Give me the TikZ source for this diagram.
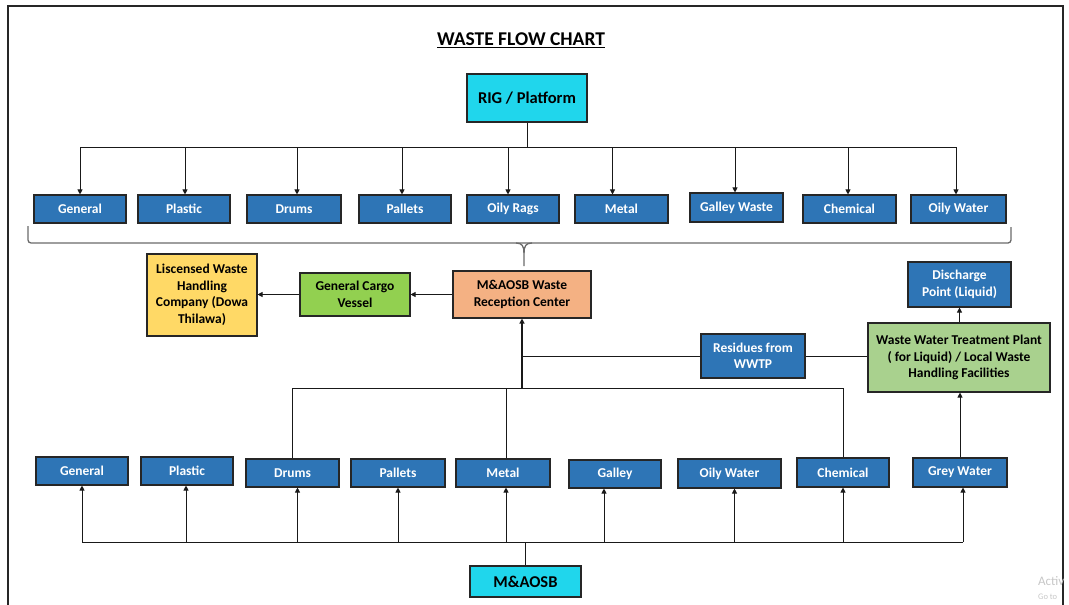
\documentclass[tikz,border=0pt]{standalone}
\usepackage{fontspec}
\setmainfont{Carlito}
\usetikzlibrary{arrows.meta}
\definecolor{boxblue}{HTML}{2E75B6}
\definecolor{boxcyan}{HTML}{20D6EC}
\definecolor{boxorange}{HTML}{F4B183}
\definecolor{boxgreen}{HTML}{92D050}
\definecolor{boxlgreen}{HTML}{A9D18E}
\definecolor{boxyellow}{HTML}{FFD966}
\definecolor{bracegray}{HTML}{6A6A6A}
\begin{document}
\begin{tikzpicture}[x=1pt,y=-1pt,
  every node/.style={font=\bfseries\fontsize{13.5}{16.5}\selectfont, inner sep=0pt, align=center},
  basebox/.style={draw=black!85, line width=1.1pt},
  bluebox/.style={basebox, fill=boxblue, text=white},
  cyanbox/.style={basebox, fill=boxcyan, text=black},
  orangebox/.style={basebox, fill=boxorange, text=black},
  greenbox/.style={basebox, fill=boxgreen, text=black},
  lgreenbox/.style={basebox, fill=boxlgreen, text=black},
  yellowbox/.style={basebox, fill=boxyellow, text=black},
  ln/.style={line width=0.9pt, draw=black!90},
  arr/.style={ln, -{Triangle[length=5pt,width=5pt]}},
  bracestyle/.style={line width=1.3pt, draw=bracegray},
  wm/.style={font=\fontsize{13}{14}\selectfont, text=black!22, anchor=base west}
]
\useasboundingbox (0,0) rectangle (1069,605);
\draw[line width=1.6pt, draw=black!85] (8,605) -- (8,6) -- (1063,6) -- (1063,605);
\node[wm] (wm1) at (1038,585) {Activ};
\node[wm, font=\fontsize{8.5}{9}\selectfont] (wm2) at (1038,599) {Go to};

% title
\node[font=\bfseries\fontsize{19.5}{22}\selectfont] (title) at (521,40) {\underline{WASTE FLOW CHART}};

% top source
\node[cyanbox, minimum width=120, minimum height=48, font=\bfseries\fontsize{16.5}{19}\selectfont] (rig) at (527,98) {RIG / Platform};

% top row
\node[bluebox, minimum width=92, minimum height=28] (t1) at (80,209) {General};
\node[bluebox, minimum width=92, minimum height=28] (t2) at (184,209) {Plastic};
\node[bluebox, minimum width=94, minimum height=28] (t3) at (294,209) {Drums};
\node[bluebox, minimum width=92, minimum height=28] (t4) at (405,209) {Pallets};
\node[bluebox, minimum width=92, minimum height=28] (t5) at (513,209) {Oily Rags};
\node[bluebox, minimum width=93, minimum height=28] (t6) at (621.5,209) {Metal};
\node[bluebox, minimum width=93, minimum height=29] (t7) at (736.5,207.5) {Galley Waste};
\node[bluebox, minimum width=93, minimum height=28] (t8) at (849.5,209) {Chemical};
\node[bluebox, minimum width=95, minimum height=28] (t9) at (958.5,209) {Oily Water};

\coordinate (bus) at (527,147);
\coordinate (a2) at ([xshift=1pt]t2.north);
\coordinate (a3) at ([xshift=3pt]t3.north);
\coordinate (a4) at ([xshift=-3pt]t4.north);
\coordinate (a5) at ([xshift=-5pt]t5.north);
\coordinate (a6) at ([xshift=-9pt]t6.north);
\coordinate (a7) at ([xshift=-1.5pt]t7.north);
\coordinate (a8) at ([xshift=-1.5pt]t8.north);
\coordinate (a9) at ([xshift=-2.5pt]t9.north);

\draw[ln] (rig.south) -- (bus);
\draw[ln] (t1.north |- bus) -- (a9 |- bus);
\draw[arr] (t1.north |- bus) -- (t1.north);
\foreach \i in {2,...,9}{
  \draw[arr] (a\i |- bus) -- (a\i);
}

% brace
\draw[bracestyle, rounded corners=3pt] (28,226) -- (28,243) -- (1011,243) -- (1011,227);
\coordinate (btip) at (524,266);
\draw[bracestyle] (516,243) .. controls (522,243) and (524,246) .. (524,253) -- (btip);
\draw[bracestyle] (532,243) .. controls (526,243) and (524,246) .. (524,253);

% middle
\node[orangebox, minimum width=138, minimum height=47] (rec) at (522,294.5) {M\&AOSB Waste\\Reception Center};
\node[greenbox, minimum width=110, minimum height=43] (cargo) at (355,294.5) {General Cargo\\Vessel};
\node[yellowbox, minimum width=110, minimum height=82] (lic) at (202,295) {Liscensed Waste\\Handling\\Company (Dowa\\Thilawa)};
\node[bluebox, minimum width=104, minimum height=44] (res) at (753,356) {Residues from\\WWTP};
\node[lgreenbox, minimum width=182, minimum height=69] (ww) at (959,357.5) {Waste Water Treatment Plant\\( for Liquid) / Local Waste\\Handling Facilities};
\node[bluebox, minimum width=103, minimum height=45] (dis) at (959.5,284.5) {Discharge\\Point (Liquid)};

\draw[arr] (rec.west) -- (cargo.east);
\draw[arr] (cargo.west) -- (lic.east |- cargo.west);

% bottom row
\node[bluebox, minimum width=92, minimum height=28] (b1) at (82,471) {General};
\node[bluebox, minimum width=92, minimum height=28] (b2) at (187,471) {Plastic};
\node[bluebox, minimum width=93, minimum height=28] (b3) at (292.5,473) {Drums};
\node[bluebox, minimum width=94, minimum height=28] (b4) at (398,473) {Pallets};
\node[bluebox, minimum width=94, minimum height=28] (b5) at (503,473) {Metal};
\node[bluebox, minimum width=92, minimum height=28] (b6) at (615,474) {Galley};
\node[bluebox, minimum width=103, minimum height=29] (b7) at (729.5,473.5) {Oily Water};
\node[bluebox, minimum width=92, minimum height=29] (b8) at (843,472.5) {Chemical};
\node[bluebox, minimum width=94, minimum height=29] (b9) at (960,472.5) {Grey Water};

\node[cyanbox, minimum width=111, minimum height=31, font=\bfseries\fontsize{16.5}{18}\selectfont] (mas) at (525.5,581.5) {M\&AOSB};

% collection to reception
\coordinate (mid) at (522,388);
\coordinate (u5) at ([xshift=3pt]b5.north);
\draw[ln] (b3.north) -- (b3.north |- mid) -- (b8.north |- mid) -- (b8.north);
\draw[ln] (u5) -- (u5 |- mid);
\draw[arr, line width=2.2pt] (mid) -- (rec.south);
\draw[ln] (rec.south |- res.west) -- (res.west);
\draw[ln] (res.east) -- (ww.west |- res.east);
\draw[arr] (b9.north) -- (b9.north |- ww.south);
\draw[arr] (dis.south |- ww.north) -- (dis.south);

% bottom distribution
\coordinate (bus2) at (525,542);
\coordinate (c1) at (b1.south);
\coordinate (c2) at ([xshift=-1pt]b2.south);
\coordinate (c3) at ([xshift=5pt]b3.south);
\coordinate (c4) at (b4.south);
\coordinate (c5) at ([xshift=3pt]b5.south);
\coordinate (c6) at ([xshift=-11pt]b6.south);
\coordinate (c7) at ([xshift=5pt]b7.south);
\coordinate (c8) at (b8.south);
\coordinate (c9) at ([xshift=3pt]b9.south);
\draw[ln] (mas.north) -- (mas.north |- bus2);
\draw[ln] (c1 |- bus2) -- (c9 |- bus2);
\foreach \i in {1,...,9}{
  \draw[arr] (c\i |- bus2) -- (c\i);
}
\end{tikzpicture}
\end{document}
